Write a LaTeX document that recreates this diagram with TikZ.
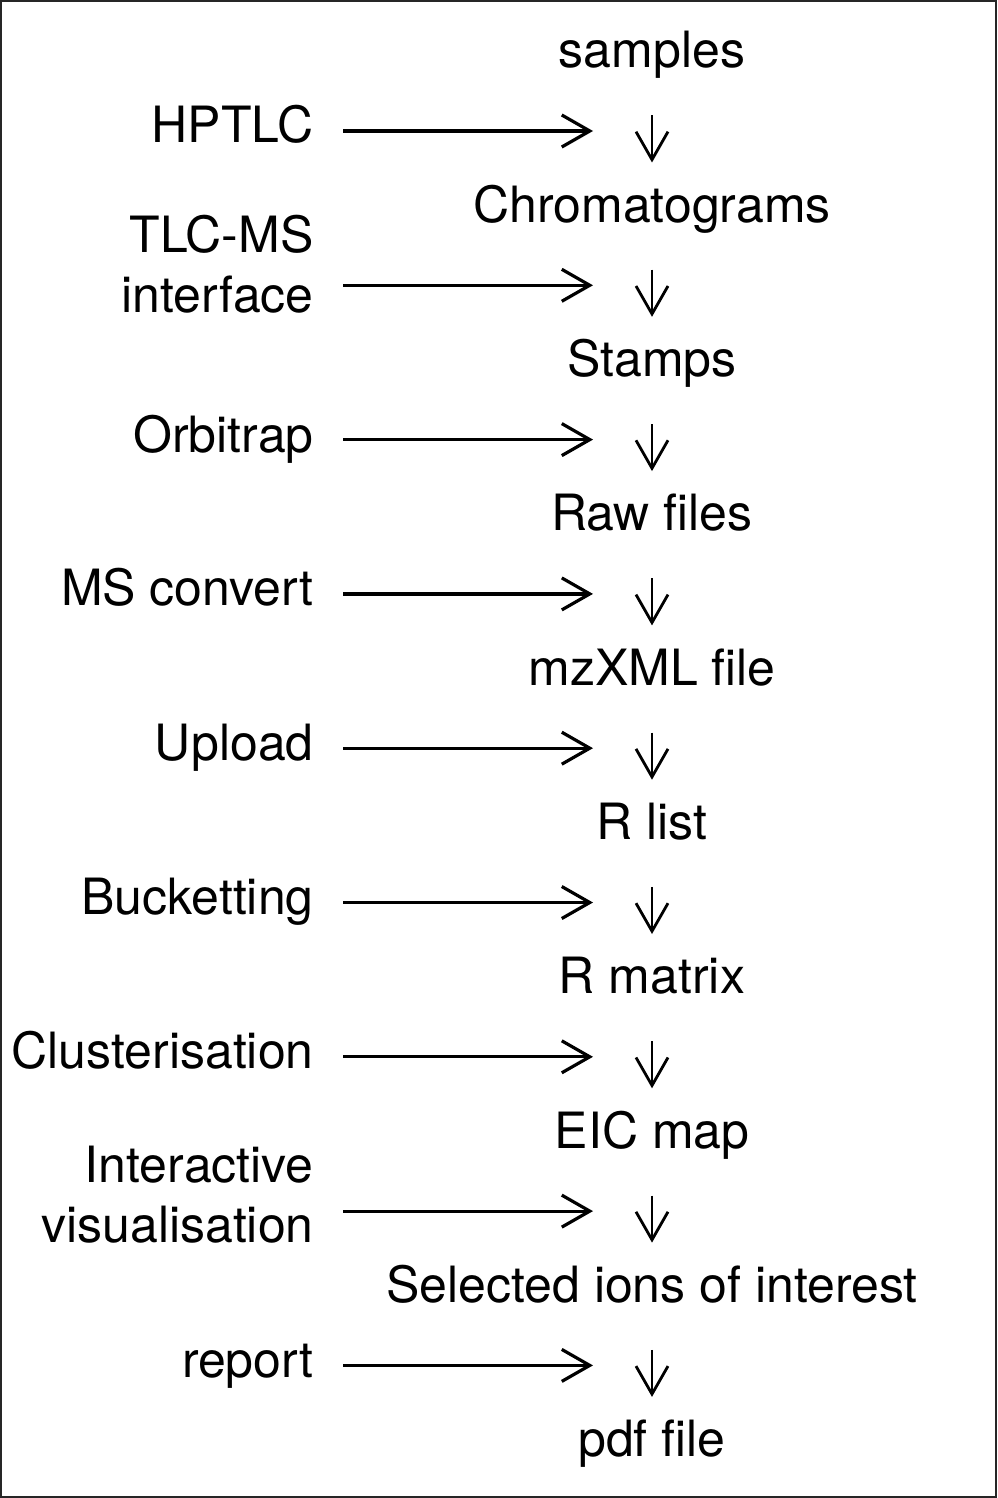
\documentclass[tikz,border=0pt]{standalone}
\usepackage{fontspec}
\setmainfont{TeX Gyre Heros}
\usetikzlibrary{arrows.meta,positioning}

\begin{document}
\begin{tikzpicture}[x=0.5pt,y=-0.5pt,>={Straight Barb[length=14pt,width=16pt]},
	every node/.style={font=\fontsize{25}{30}\selectfont},
	item/.style={anchor=base,inner sep=0pt,text height=18pt,text depth=5pt},
	tool/.style={anchor=base east,inner sep=0pt,align=right},
	flow/.style={->,line width=1.6pt},
	down/.style={->,line width=1.4pt,shorten <=18.5pt,shorten >=11.7pt}]
	
	\useasboundingbox (0,0) rectangle (997,1498);
	\draw[line width=1pt,black!85] (1,1) rectangle (996,1497);
	
	% data at each stage
	\foreach \name/\txt [count=\k from 0] in {samples/samples,chrom/Chromatograms,stamps/Stamps,raw/Raw files,mzxml/mzXML file,rlist/R list,rmatrix/R matrix,eic/EIC map,ions/Selected ions of interest,pdf/pdf file}
		\node[item] (\name) at (652,{68+154.3*\k}) {\txt};
	
	% tools between stages (base = last line)
	\foreach \name/\txt/\dy [count=\k from 0] in {hptlc/HPTLC/12,tlcms/{TLC-MS\\interface}/27,orbi/Orbitrap/13,conv/MS convert/12,upload/Upload/12,bucket/Bucketting/12,clust/Clusterisation/12,vis/{Interactive\\visualisation}/31,report/report/12}{
		\node[tool] (\name) at (314,{131+154.3*\k+\dy}) {\txt};
		\coordinate (from\k) at (343,{131+154.3*\k});
		\coordinate (to\k) at (593,{131+154.3*\k});
		\draw[flow] (from\k) -- (to\k);
	}
	
	\foreach \a/\b in {samples/chrom,chrom/stamps,stamps/raw,raw/mzxml,mzxml/rlist,rlist/rmatrix,rmatrix/eic,eic/ions,ions/pdf}
		\draw[down] (\a) -- (\b);
	
\end{tikzpicture}
\end{document}
